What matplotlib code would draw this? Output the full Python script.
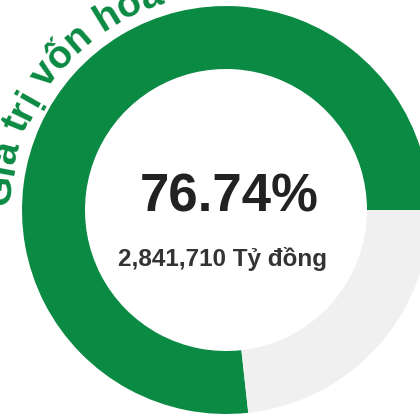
import numpy as np
import matplotlib
matplotlib.use("Agg")
import matplotlib.pyplot as plt
from matplotlib import font_manager
from matplotlib.ft2font import FT2Font

# ---- data ----
labels = ["Vốn hoá", "Còn lại"]
shares = [76.74, 23.26]
center_value = "76.74%"
center_sub = "2,841,710 Tỷ đồng"
arc_title = "Giá trị vốn hoá"

GREEN = "#0b8a43"
GRAY = "#f0f0f0"

fig = plt.figure(figsize=(4.2, 4.2), dpi=100)
ax = fig.add_axes([0, 0, 1, 1])

cx, cy = 226, 210
R_out, ring_w = 204, 63

ax.pie(shares, colors=[GREEN, GRAY], startangle=0, counterclock=True,
       radius=R_out, center=(cx, cy),
       wedgeprops=dict(width=ring_w, linewidth=0))
ax.set_xlim(0, 420)
ax.set_ylim(0, 420)
ax.set_aspect("equal")
ax.axis("off")

# ---- center texts ----
ax.text(229, 208, center_value, ha="center", va="baseline",
        fontsize=38, fontweight="bold", color="#222222",
        family=["Liberation Sans", "DejaVu Sans"])
ax.text(222, 154, center_sub, ha="center", va="baseline",
        fontsize=17.5, fontweight="bold", color="#333333",
        family=["Liberation Sans", "DejaVu Sans"])

# ---- curved title along the ring ----
fsize = 28.2
fp = font_manager.FontProperties(family="Liberation Sans", weight="bold", size=fsize)
ft = FT2Font(font_manager.findfont(fp))
ft.set_size(fsize, 100)

def adv(c):
    g = ft.load_char(ord(c))
    return g.linearHoriAdvance / 65536

r_base = 216
theta0 = np.deg2rad(179.0)
s = 0.0
for ch in arc_title:
    a = adv(ch)
    mid = s + a / 2
    th = theta0 - mid / r_base
    x = cx + r_base * np.cos(th)
    y = cy + r_base * np.sin(th)
    if ch != " ":
        ax.text(x, y, ch, ha="center", va="baseline", rotation=np.rad2deg(th) - 90,
                rotation_mode="anchor", fontsize=fsize, fontweight="bold",
                color=GREEN, family=["Liberation Sans", "DejaVu Sans"])
    s += a

fig.savefig("out.png", dpi=100)
